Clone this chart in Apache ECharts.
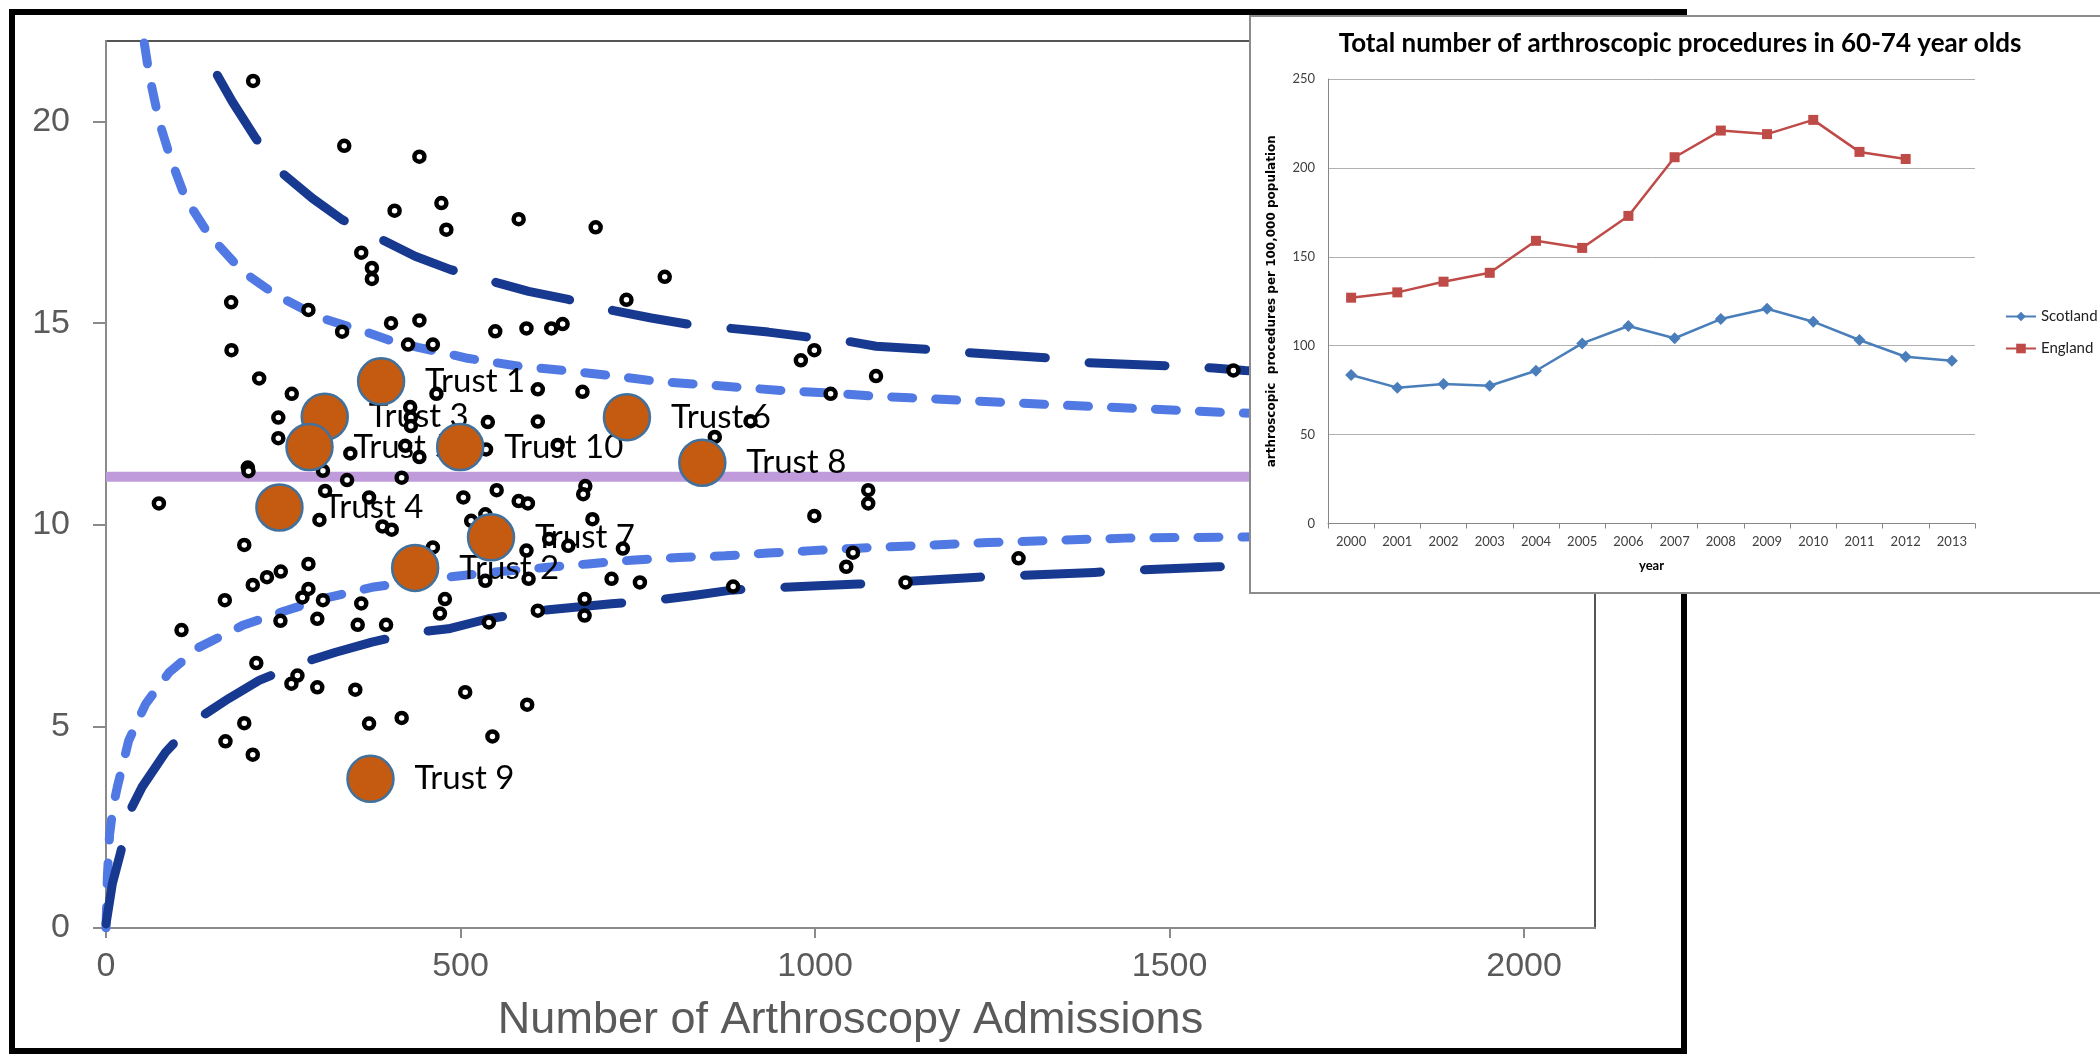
<!DOCTYPE html>
<html><head><meta charset="utf-8">
<script src="https://cdn.jsdelivr.net/npm/echarts@6/dist/echarts.min.js"></script>
<style>html,body{margin:0;padding:0;background:#fff}#c{width:2100px;height:1054px}</style>
</head><body><div id="c"></div>
<script>
// ---- Main funnel plot data ----
const xTicks = [0, 500, 1000, 1500, 2000];
const yTicks = [0, 5, 10, 15, 20];
const meanRate = 11.19;
const otherTrusts = [[207.5,21.01],[336,19.40],[442,19.13],[473,17.98],[407,17.79],[480,17.32],[360,16.75],[375,16.37],[375,16.10],[176.5,15.52],[285.5,15.33],[333,14.79],[402,15.00],[442,15.07],[549,14.80],[582,17.58],[690.6,17.38],[788,16.15],[734,15.58],[593,14.87],[628,14.87],[644,14.98],[426,14.47],[461,14.47],[177,14.33],[216,13.63],[262,13.25],[466,13.25],[243,12.66],[243,12.15],[429,12.92],[430,12.66],[430,12.45],[422,11.96],[442,11.68],[538.5,12.55],[536,11.87],[344.6,11.77],[200,11.42],[201,11.33],[306,11.34],[340,11.11],[417,11.17],[309,10.84],[74.6,10.53],[504,10.68],[551,10.86],[371,10.68],[301,10.12],[390,9.96],[403,9.88],[515,10.10],[535,10.26],[195,9.50],[461,9.44],[285.5,9.03],[246.5,8.84],[227,8.70],[207,8.51],[285.5,8.41],[277,8.20],[306,8.13],[167.6,8.13],[360,8.05],[478,8.16],[471,7.80],[535,8.61],[298,7.67],[246,7.62],[106.5,7.39],[355,7.52],[395,7.52],[540,7.58],[212,6.57],[270,6.26],[261.5,6.06],[298,5.97],[351.6,5.91],[506.6,5.85],[195,5.08],[168.5,4.63],[207,4.30],[371,5.07],[417,5.21],[545,4.75],[980,14.08],[999,14.33],[1086,13.69],[609,13.36],[672,13.30],[1022,13.25],[609,12.56],[909,12.57],[858.6,12.18],[637,11.98],[676,10.96],[673,10.76],[582,10.59],[595,10.53],[1075,10.86],[1075,10.53],[999,10.22],[686,10.14],[625,9.65],[652,9.48],[593,9.36],[729,9.41],[1053.5,9.31],[1044,8.96],[596,8.66],[713,8.66],[753,8.57],[884.5,8.47],[675,8.16],[609,7.87],[675,7.75],[594,5.54],[1287,9.17],[1127.6,8.57],[1590,13.83],[405,13.8]];

const trustNames = ['Trust 1','Trust 2','Trust 3','Trust 4','Trust 5','Trust 6','Trust 7','Trust 8','Trust 9','Trust 10'];
const trustAdmissions = [388, 436, 308.5, 244.6, 287, 734.7, 543, 841, 373, 499.5];
const trustRates = [13.56, 8.93, 12.68, 10.43, 11.93, 12.67, 9.69, 11.54, 3.70, 11.93];

// control limits
const innerUpper = [[54,21.95],[61,21.15],[75,20.0],[91,19.09],[112,18.10],[145,17.20],[192,16.29],[239,15.71],[300,15.15],[355,14.85],[400,14.58],[440,14.40],[478,14.26],[510,14.13],[580,13.94],[656,13.81],[718,13.69],[781,13.55],[840,13.48],[901,13.40],[962,13.32],[1023,13.27],[1084,13.19],[1134,13.15],[1322,12.99],[1587,12.78],[1700,12.72]];
const innerLower = [[0,0],[2,1.3],[5,2.3],[10,3.0],[16,3.5],[32,4.65],[56,5.56],[89,6.34],[131,6.96],[192,7.50],[253,7.87],[314,8.20],[375,8.45],[470,8.68],[544,8.82],[619,8.94],[680,9.03],[746,9.13],[807,9.19],[873,9.23],[934,9.30],[995,9.36],[1061,9.42],[1244,9.56],[1438,9.67],[1603,9.70],[1700,9.72]];
const outerUpper = [[157,21.15],[178,20.50],[211,19.59],[246,18.76],[291,18.10],[333,17.57],[385,17.11],[436,16.66],[486,16.33],[544,16.04],[596,15.79],[652,15.59],[708,15.34],[769,15.13],[819,14.98],[877,14.88],[934,14.78],[993,14.65],[1047,14.55],[1086,14.43],[1160,14.35],[1216,14.27],[1335,14.13],[1386,14.02],[1506,13.94],[1562,13.89],[1606,13.83],[1700,13.75]];
const outerLower = [[0,0.1],[9,1.1],[21,1.9],[32,2.84],[51,3.50],[84,4.36],[126,5.15],[173,5.69],[216,6.14],[272,6.55],[324,6.84],[375,7.09],[436,7.33],[483,7.42],[539,7.67],[610,7.87],[713,8.04],[769,8.12],[826,8.24],[882,8.38],[943,8.44],[1004,8.49],[1061,8.53],[1230,8.70],[1280,8.74],[1394,8.82],[1459,8.88],[1568,8.96],[1700,9.02]];

// ---- Inset data ----
const years = ['2000','2001','2002','2003','2004','2005','2006','2007','2008','2009','2010','2011','2012','2013'];
const scotland = [83.5,76.4,78.5,77.5,85.9,101.3,111.1,104.2,115.0,120.8,113.5,103.2,93.8,91.6];
const england = [127,130,136,141,159,155,173,206,221,219,227,209,205];

const trustData = trustNames.map((n,i)=>({name:n, value:[trustAdmissions[i], trustRates[i]]}));
const gray = '#5a5a5a';
const lab = {fontFamily:'Liberation Sans, Arial, sans-serif', fontSize:34, color:gray, formatter:v=>String(v)};

const chart = echarts.init(document.getElementById('c'), null, {renderer:'canvas'});
chart.setOption({
  animation:false,
  backgroundColor:'#fff',
  grid:[
    {left:106, top:41, width:1489, height:887, show:true, borderColor:'#555', borderWidth:2, backgroundColor:'transparent'},
    {left:1328, top:79, width:647, height:444.5}
  ],
  xAxis:[
    {type:'value', gridIndex:0, min:0, max:2100, interval:500,
     splitLine:{show:false},
     axisLine:{lineStyle:{color:'#8a8a8a', width:2}},
     axisTick:{length:10, lineStyle:{color:'#8a8a8a', width:2}, customValues:xTicks},
     axisLabel:Object.assign({margin:22, customValues:xTicks}, lab),
     name:'Number of Arthroscopy Admissions', nameLocation:'middle', nameGap:70,
     nameTextStyle:{fontFamily:'Liberation Sans, Arial, sans-serif', fontSize:45, color:gray}},
    {type:'category', gridIndex:1, data:years, z:60,
     axisLine:{lineStyle:{color:'#868686', width:1}},
     axisTick:{show:true, length:5, lineStyle:{color:'#868686'}},
     axisLabel:{fontFamily:'Lato', fontSize:13, color:'#404040', margin:12, interval:0},
     name:'year', nameLocation:'middle', nameGap:36,
     nameTextStyle:{fontFamily:'Lato', fontWeight:'bold', fontSize:13, color:'#000'}}
  ],
  yAxis:[
    {type:'value', gridIndex:0, min:0, max:22, interval:5,
     splitLine:{show:false},
     axisLine:{show:true, lineStyle:{color:'#8a8a8a', width:2}},
     axisTick:{show:true, length:13, lineStyle:{color:'#8a8a8a', width:2}, customValues:yTicks},
     axisLabel:Object.assign({margin:36, customValues:yTicks}, lab)},
    {type:'value', gridIndex:1, min:0, max:250, interval:50, z:60,
     axisLine:{show:true, lineStyle:{color:'#868686', width:1}},
     axisTick:{show:false},
     splitLine:{lineStyle:{color:'#b0b0b0', width:1}},
     axisLabel:{fontFamily:'Lato', fontSize:13, color:'#404040', margin:13},
     name:'arthroscopic  procedures per 100,000 population', nameLocation:'middle', nameGap:50,
     nameTextStyle:{fontFamily:'DejaVu Sans', fontWeight:'bold', fontSize:12, color:'#000'}}
  ],
  legend:{data:['Scotland','England'], orient:'vertical', left:2000, top:304, itemWidth:30, itemHeight:12, itemGap:17, z:60,
    textStyle:{fontFamily:'Lato', fontSize:15, color:'#222'}},
  graphic:[
    {type:'rect', z:40, shape:{x:12, y:12, width:1672, height:1039}, style:{fill:'none', stroke:'#000', lineWidth:6}},
    {type:'rect', z:50, shape:{x:1250, y:16, width:870, height:577}, style:{fill:'#fff', stroke:'#8c8c8c', lineWidth:2}},
    {type:'text', z:61, x:1680, y:44, style:{text:'Total number of arthroscopic procedures in 60-74 year olds',
      font:'bold 26px Lato', fill:'#000', align:'center', verticalAlign:'middle', textAlign:'center', textVerticalAlign:'middle'}}
  ],
  series:[
    {name:'innerUpper', type:'line', xAxisIndex:0, yAxisIndex:0, data:innerUpper, smooth:false, showSymbol:false, z:2,
     lineStyle:{color:'#5179e3', width:9, type:[21,23], cap:'round', join:'round'}},
    {name:'innerLower', type:'line', xAxisIndex:0, yAxisIndex:0, data:innerLower, smooth:false, showSymbol:false, z:2,
     lineStyle:{color:'#5179e3', width:9, type:[21,23], cap:'round', join:'round'}},
    {name:'outerUpper', type:'line', xAxisIndex:0, yAxisIndex:0, data:outerUpper, smooth:false, showSymbol:false, z:2,
     lineStyle:{color:'#183990', width:9, type:[76,44], cap:'round', join:'round'}},
    {name:'outerLower', type:'line', xAxisIndex:0, yAxisIndex:0, data:outerLower, smooth:false, showSymbol:false, z:2,
     lineStyle:{color:'#183990', width:9, type:[76,44], cap:'round', join:'round'}},
    {name:'mean', type:'line', xAxisIndex:0, yAxisIndex:0, data:[[0,meanRate],[2100,meanRate]], showSymbol:false, z:3,
     lineStyle:{color:'#c09bdc', width:10}},
    {name:'trustLabels', type:'scatter', xAxisIndex:0, yAxisIndex:0, data:trustData, symbolSize:46, z:4,
     itemStyle:{color:'rgba(0,0,0,0)', opacity:1},
     label:{show:true, position:'right', distance:21, formatter:'{b}', fontFamily:'Lato', fontSize:33, color:'#000'}},
    {name:'trusts', type:'scatter', xAxisIndex:0, yAxisIndex:0, data:otherTrusts, symbol:'circle', symbolSize:10, z:5,
     itemStyle:{color:'#fff', borderColor:'#000', borderWidth:4.5, opacity:1}},
    {name:'highlighted', type:'scatter', xAxisIndex:0, yAxisIndex:0, data:trustData, symbol:'circle', symbolSize:46, z:6,
     itemStyle:{color:'#c55a11', borderColor:'#41719c', borderWidth:2.5, opacity:1}},
    {name:'Scotland', type:'line', xAxisIndex:1, yAxisIndex:1, data:scotland, symbol:'diamond', symbolSize:12, z:60,
     itemStyle:{color:'#4a7ebb'}, lineStyle:{color:'#4a7ebb', width:2.5}},
    {name:'England', type:'line', xAxisIndex:1, yAxisIndex:1, data:england, symbol:'rect', symbolSize:10, z:60,
     itemStyle:{color:'#be4b48'}, lineStyle:{color:'#be4b48', width:2.5}}
  ]
});
</script></body></html>
